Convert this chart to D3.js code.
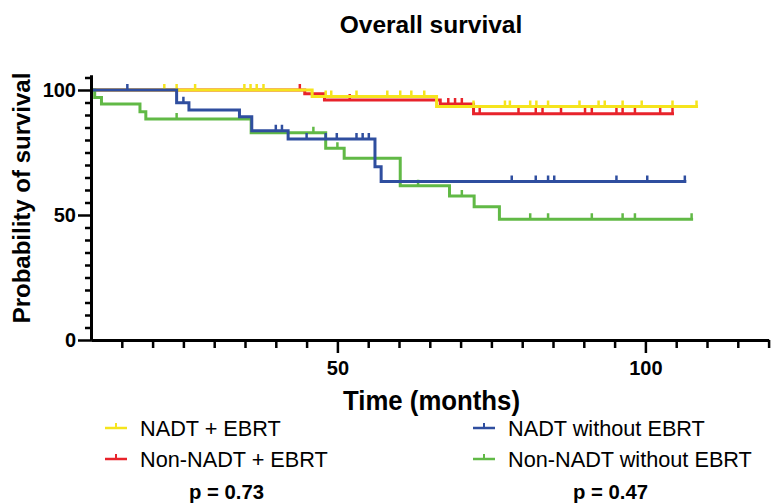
<!DOCTYPE html>
<html>
<head>
<meta charset="utf-8">
<script src="https://cdn.jsdelivr.net/npm/d3@7/dist/d3.min.js"></script>
<style>
  html, body { margin: 0; padding: 0; background: #fff; }
  svg { display: block; }
  text { font-family: "Liberation Sans", Arial, Helvetica, sans-serif; fill: #000; }
</style>
</head>
<body>
<svg id="chart" width="772" height="503"></svg>
<script>
// Kaplan–Meier step data: [time in months, survival % after the step]
const nadtEbrtSteps = [[0, 100], [45.9, 97.4], [66.1, 93.4], [108.3, 93.4]];
const nadtEbrtCensored = [21.9, 23.9, 26.9, 34.9, 35.9, 36.9, 38.0, 48.1, 49.0, 53.1, 58.1, 60.2,
  62.0, 64.1, 72.1, 77.2, 78.0, 81.3, 82.3, 84.2, 89.3, 92.4, 93.4, 96.3, 99.4, 104.4, 108.3];

const nonNadtEbrtSteps = [[0, 100], [44.7, 98.5], [47.9, 96.0], [66.7, 94.4], [72.1, 90.5], [104.4, 90.5]];
const nonNadtEbrtCensored = [43.9, 52.0, 68.0, 69.1, 70.2, 73.1, 79.4, 82.2, 83.3, 86.3, 90.2, 91.3,
  95.3, 96.3, 98.3, 102.4, 104.4];

const nadtNoEbrtSteps = [[0, 100], [23.9, 94.9], [25.9, 92.0], [34.1, 89.3], [36.1, 83.7], [42.0, 80.4],
  [56.1, 69.3], [57.1, 63.4], [106.4, 63.4]];
const nadtNoEbrtCensored = [15.9, 25.0, 40.0, 41.0, 45.0, 48.1, 49.9, 53.1, 54.1, 55.1, 78.3, 82.2,
  84.2, 85.2, 95.3, 100.3, 106.4];

const nonNadtNoEbrtSteps = [[0, 100], [10.6, 97.0], [11.7, 94.4], [17.95, 91.3], [18.9, 88.4], [36.0, 82.9],
  [48.1, 76.7], [51.1, 72.7], [60.2, 61.7], [68.2, 57.6], [72.2, 53.3], [76.3, 48.3], [107.5, 48.3]];
const nonNadtNoEbrtCensored = [23.9, 46.1, 50.0, 63.1, 70.2, 81.3, 84.2, 91.3, 96.3, 98.3, 107.5];

const groupNames = ["NADT + EBRT", "Non-NADT + EBRT", "NADT without EBRT", "Non-NADT without EBRT"];
const groupColors = ["#f5e41c", "#e8232b", "#2f4e9f", "#61b946"];
const pValues = ["p = 0.73", "p = 0.47"];

const xMajorTicks = [50, 100];
const xMinorTicks = d3.range(15, 121, 5);
const yMajorTicks = [0, 50, 100];
const yMinorTicks = d3.range(5, 106, 5);

const groups = [
  { name: groupNames[0], color: groupColors[0], steps: nadtEbrtSteps, censored: nadtEbrtCensored },
  { name: groupNames[1], color: groupColors[1], steps: nonNadtEbrtSteps, censored: nonNadtEbrtCensored },
  { name: groupNames[2], color: groupColors[2], steps: nadtNoEbrtSteps, censored: nadtNoEbrtCensored },
  { name: groupNames[3], color: groupColors[3], steps: nonNadtNoEbrtSteps, censored: nonNadtNoEbrtCensored }
];

const svg = d3.select("#chart");

const x = d3.scaleLinear().domain([10, 120]).range([91, 768.6]);
const y = d3.scaleLinear().domain([0, 106]).range([340, 75]);

// Title
svg.append("text")
  .attr("x", 431).attr("y", 33)
  .attr("text-anchor", "middle")
  .style("font-size", "24.5px").style("font-weight", "bold")
  .text("Overall survival");

// Clip curves to the plotting window (the x axis starts at 10 months)
svg.append("clipPath").attr("id", "plotClip")
  .append("rect")
  .attr("x", x(10)).attr("y", 0)
  .attr("width", x(120) - x(10) + 4).attr("height", y(0) + 2);

// Step value at time t
function survivalAt(steps, t) {
  const i = d3.bisector(d => d[0]).right(steps, t) - 1;
  return steps[Math.max(0, i)][1];
}

const line = d3.line()
  .x(d => x(d[0]))
  .y(d => y(d[1]))
  .curve(d3.curveStepAfter);

const plot = svg.append("g").attr("clip-path", "url(#plotClip)");

// Drawing order keeps blue on top, then green, yellow, red underneath
const drawOrder = [1, 0, 3, 2];
drawOrder.forEach(k => {
  const g = groups[k];
  const gg = plot.append("g");
  gg.append("path")
    .datum(g.steps)
    .attr("d", line)
    .attr("fill", "none")
    .attr("stroke", g.color)
    .attr("stroke-width", 3)
    .attr("stroke-linejoin", "miter")
    .attr("stroke-linecap", "square");
  gg.selectAll("line.censor")
    .data(g.censored)
    .join("line")
    .attr("class", "censor")
    .attr("x1", d => x(d)).attr("x2", d => x(d))
    .attr("y1", d => y(survivalAt(g.steps, d)))
    .attr("y2", d => y(survivalAt(g.steps, d)) - 6)
    .attr("stroke", g.color)
    .attr("stroke-width", 2.5);
});

// Axes
function styleAxis(sel, width) {
  sel.selectAll("path.domain").attr("stroke", "#000").attr("stroke-width", 3);
  sel.selectAll(".tick line").attr("stroke", "#000").attr("stroke-width", width);
}

const xMinor = svg.append("g").attr("transform", `translate(0,${y(0)})`)
  .call(d3.axisBottom(x).tickValues(xMinorTicks.filter(v => !xMajorTicks.includes(v)))
    .tickSize(8).tickSizeOuter(0).tickFormat(""));
styleAxis(xMinor, 2.5);

const xMajor = svg.append("g").attr("transform", `translate(0,${y(0)})`)
  .call(d3.axisBottom(x).tickValues(xMajorTicks).tickSize(13).tickSizeOuter(0).tickPadding(8));
styleAxis(xMajor, 2.5);
xMajor.selectAll("text")
  .style("font-size", "20px").style("font-weight", "bold").style("font-family", null);
xMajor.attr("font-family", null).attr("font-size", null);

const yMinor = svg.append("g").attr("transform", `translate(${x(10)},0)`)
  .call(d3.axisLeft(y).tickValues(yMinorTicks.filter(v => !yMajorTicks.includes(v)))
    .tickSize(6).tickSizeOuter(0).tickFormat(""));
styleAxis(yMinor, 2.5);

const yMajor = svg.append("g").attr("transform", `translate(${x(10)},0)`)
  .call(d3.axisLeft(y).tickValues(yMajorTicks).tickSize(13).tickSizeOuter(0).tickPadding(2));
styleAxis(yMajor, 2.5);
yMajor.selectAll("text")
  .style("font-size", "20px").style("font-weight", "bold");
yMajor.attr("font-family", null).attr("font-size", null);

// Axis titles
svg.append("text")
  .attr("x", 431.5).attr("y", 410)
  .attr("text-anchor", "middle")
  .attr("textLength", 177).attr("lengthAdjust", "spacingAndGlyphs")
  .style("font-size", "28px").style("font-weight", "bold")
  .text("Time (months)");

svg.append("text")
  .attr("transform", "translate(30,198) rotate(-90)")
  .attr("text-anchor", "middle")
  .style("font-size", "24px").style("font-weight", "bold")
  .text("Probability of survival");

// Legend: two columns of two entries, p-value under each column
const legendCols = [
  { symX: 105, textX: 140, pX: 226.5, items: [0, 1], p: pValues[0] },
  { symX: 473, textX: 508, pX: 610.5, items: [2, 3], p: pValues[1] }
];
const rowBaselines = [436, 467];

legendCols.forEach(col => {
  col.items.forEach((k, r) => {
    const g = groups[k];
    const cy = rowBaselines[r] - 8;
    const lg = svg.append("g");
    lg.append("line")
      .attr("x1", col.symX).attr("x2", col.symX + 22)
      .attr("y1", cy).attr("y2", cy)
      .attr("stroke", g.color).attr("stroke-width", 2.5);
    lg.append("line")
      .attr("x1", col.symX + 11).attr("x2", col.symX + 11)
      .attr("y1", cy).attr("y2", cy - 5)
      .attr("stroke", g.color).attr("stroke-width", 2);
    lg.append("text")
      .attr("x", col.textX).attr("y", rowBaselines[r])
      .style("font-size", "21.7px")
      .text(g.name);
  });
  svg.append("text")
    .attr("x", col.pX).attr("y", 499)
    .attr("text-anchor", "middle")
    .style("font-size", "20.3px").style("font-weight", "bold")
    .text(col.p);
});
</script>
</body>
</html>
